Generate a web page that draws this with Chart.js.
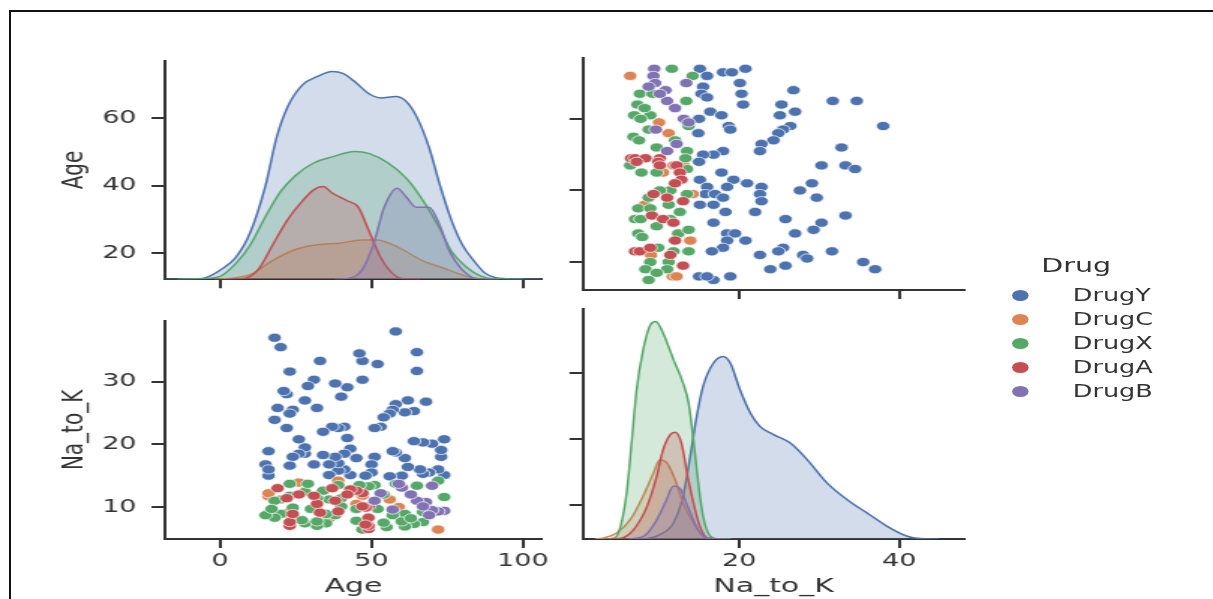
<!DOCTYPE html>
<html><head><meta charset="utf-8">
<script src="https://cdn.jsdelivr.net/npm/chart.js@4.4.1/dist/chart.umd.min.js"></script>
<style>
html,body{margin:0;padding:0;background:#fff;overflow:hidden;width:1213px;height:599px;}
#frame{position:absolute;left:9px;top:10px;width:1300px;height:700px;border-top:2px solid #111;border-left:2px solid #111;}
#wrap{position:absolute;left:0;top:0;width:809px;height:599px;transform-origin:0 0;}
#wrap canvas{position:absolute;}
.leg{position:absolute;font-family:"DejaVu Sans";color:#333;white-space:nowrap;}
.mk{position:absolute;width:11px;height:11px;border-radius:50%;}
</style></head><body>
<div id="frame"></div>
<div id="wrap"></div>
<script>
// ---------------- DATA ----------------
const drugs = ['DrugY','DrugC','DrugX','DrugA','DrugB'];
const colors = ['#4C72B0','#DD8452','#55A868','#C44E52','#8172B3'];

// axis ticks and limits (values)
const ageXTicks = [0,50,100];
const naXTicks  = [20,40];
const ageYTicks = [20,40,60];
const naYTicks  = [10,20,30];
const ageXRange = [-18.2,106.3];
const naXRange  = [0.5,48.1];
const ageYRange = [12.2,77];
const naYRange  = [4.9,39.7];

// scatter records [Age, Na_to_K]
const drugY = [[74,15.1],[73,18.0],[73,19.1],[74,20.8],[72,16.0],[70,20.1],[67,20.3],[64,20.5],[69,15.5],[67,15.3],[66,16.0],[68,26.8],[65,31.7],[65,34.7],[64,25.3],[62,27.0],[61,25.1],[62,16.4],[61,17.8],[58,38.0],[58,18.7],[57,18.9],[58,26.4],[57,25.5],[56,24.9],[54,24.3],[53,22.8],[51,22.6],[60,15.0],[56,14.9],[52,32.8],[51,18.0],[50,16.8],[50,15.5],[48,15.0],[47,30.3],[47,33.3],[46,34.5],[45,17.8],[43,19.3],[42,21.0],[41,22.8],[43,15.1],[41,16.0],[41,18.5],[42,29.1],[40,27.6],[38,29.7],[39,22.6],[37,22.8],[39,15.8],[39,17.0],[38,18.0],[36,15.1],[36,16.8],[34,18.3],[34,22.0],[33,33.3],[32,25.8],[31,16.8],[31,30.3],[29,29.3],[28,27.0],[28,18.5],[28,19.5],[26,20.8],[26,18.5],[24,18.0],[23,16.6],[24,25.5],[23,24.9],[22,22.6],[22,28.0],[21,28.5],[23,31.6],[20,35.5],[18,37.0],[19,25.8],[18,23.9],[16,15.0],[15,16.8],[16,18.9],[16,16.0]];
const drugC = [[72,6.4],[59,10.0],[56,11.2],[26,13.9],[16,11.7],[23,7.3],[39,14.2],[47,13.1],[47,11.8],[47,10.1],[22,9.0],[28,12.5],[36,8.2],[45,10.5],[16,12.2]];
const drugX = [[74,11.6],[72,14.2],[65,13.4],[67,7.6],[64,7.3],[67,9.2],[61,6.9],[61,8.9],[59,13.5],[58,13.7],[57,8.7],[55,6.8],[52,9.7],[54,12.0],[51,13.5],[49,13.3],[47,6.4],[45,7.8],[45,9.7],[46,13.5],[40,11.4],[40,10.1],[39,13.5],[38,8.7],[36,11.2],[35,7.4],[35,8.9],[32,7.0],[34,12.6],[30,9.7],[32,11.4],[28,7.4],[28,12.4],[29,13.7],[24,9.9],[23,11.8],[23,13.7],[20,11.2],[20,8.9],[18,8.3],[18,11.0],[15,8.7],[17,9.7],[27,7.9],[32,7.7],[54,7.5],[60,7.7],[63,8.2]];
const drugA = [[49,6.5],[49,7.0],[49,8.3],[49,10.1],[48,9.9],[47,12.2],[45,12.6],[43,12.8],[42,12.0],[39,9.3],[38,11.0],[37,13.0],[33,9.1],[32,10.5],[31,11.8],[26,12.0],[23,7.0],[23,7.6],[24,8.9],[19,13.0],[22,11.4],[47,10.1],[48,7.2]];
const drugB = [[74,9.4],[72,9.3],[70,9.5],[68,10.8],[65,11.0],[70,13.4],[69,8.7],[57,9.6],[53,12.2],[51,11.0],[60,13.1],[67,10.1],[63,12.0],[59,13.7]];

// KDE curves [value, density (relative units)]
const ageKdeY = [[-18,0],[-8,0.02],[-4.7,0.07],[0.2,0.43],[5.2,1.0],[10,2.16],[15,4.3],[18.6,6.47],[22.3,7.9],[27.2,8.9],[32,9.27],[37,9.51],[40.7,9.41],[44.4,9.05],[49.3,8.48],[53,8.3],[58,8.36],[61.6,8.12],[65.3,7.33],[69,6.03],[72.6,4.3],[76.3,2.73],[80,1.58],[83.7,0.86],[87.4,0.29],[91,0.07],[98,0.01],[106,0]];
const ageKdeC = [[-2,0],[2.7,0.03],[10,0.22],[17.4,0.86],[24.8,1.36],[32,1.58],[39.5,1.65],[46.9,1.8],[51.8,1.8],[59.1,1.44],[66.5,0.86],[73.9,0.5],[81.2,0.14],[86.1,0.02],[92,0]];
const ageKdeX = [[-14,0],[-5,0.03],[0.2,0.14],[5.2,0.72],[10,1.58],[15,2.87],[19.9,4.0],[24.8,4.74],[30.9,5.32],[37,5.6],[44.4,5.85],[49.3,5.75],[55.5,5.32],[61.6,4.6],[67.7,3.45],[72.6,2.3],[76.3,1.29],[81.2,0.57],[86.1,0.14],[90,0.02],[100,0]];
const ageKdeA = [[2,0],[7.6,0.03],[12.5,0.43],[17.4,1.58],[22.3,2.73],[27.2,3.59],[30.9,4.09],[34,4.24],[37,3.95],[42,3.59],[45.6,3.3],[49.3,2.16],[53,1.0],[56.7,0.29],[60.4,0.02],[66,0]];
const ageKdeB = [[38,0],[42,0.03],[46.9,0.43],[50.6,1.58],[54.2,3.3],[58.5,4.17],[61.6,3.74],[64.7,3.3],[69,3.3],[72.6,2.44],[75.7,1.29],[80,0.43],[84.9,0.02],[90,0]];

const naKdeY = [[7,0],[8.5,0.02],[10.1,0.19],[11.8,0.7],[13,1.86],[13.9,3.6],[14.7,5.33],[15.5,6.64],[16.8,7.65],[18,7.94],[18.9,7.65],[20.1,6.5],[21.4,5.48],[22.6,4.9],[24.3,4.54],[26.4,4.17],[28.5,3.45],[31,2.43],[33.5,1.71],[36,1.13],[38.5,0.55],[41,0.12],[42.6,0.02],[45,0]];
const naKdeC = [[2,0],[3,0.03],[4.7,0.26],[6.4,0.84],[8,1.86],[9.3,2.87],[10.1,3.45],[11,3.3],[12,2.58],[13,1.57],[14.3,0.7],[15.5,0.12],[16.4,0.02],[18,0]];
const naKdeX = [[3,0],[4.5,0.05],[5.3,0.7],[6,2.14],[6.6,4.3],[7.2,6.5],[8,8.2],[8.9,9.3],[9.6,9.46],[10.5,8.96],[11.8,7.8],[13,6.78],[13.7,5.9],[14.3,4.3],[14.9,2.43],[15.5,0.99],[16.4,0.12],[17.2,0.01],[19,0]];
const naKdeA = [[4,0],[5.1,0.02],[6.8,0.4],[8.5,1.42],[9.7,2.72],[10.5,3.88],[11.4,4.54],[12,4.64],[12.8,4.17],[13.5,2.87],[14.3,1.57],[15.1,0.55],[16.2,0.03],[18,0]];
const naKdeB = [[6,0],[8,0.1],[9.5,0.7],[10.8,1.6],[11.8,2.3],[12.6,2.2],[13.6,1.4],[14.8,0.45],[16,0.05],[18,0]];

const scatterSets = [drugY, drugC, drugX, drugA, drugB];
const ageKdeSets = [ageKdeY, ageKdeC, ageKdeX, ageKdeA, ageKdeB];
const naKdeSets  = [naKdeY, naKdeC, naKdeX, naKdeA, naKdeB];

// ---------------- LAYOUT ----------------
const SX = 1213/809;
const INK = '#333333';
const FONT = 'DejaVu Sans';
const wrap = document.getElementById('wrap');
wrap.style.transform = 'scaleX(' + SX + ')';
const L1 = 165/SX, R1 = 542/SX, L2 = 583/SX, R2 = 964/SX;

function rgba(hex, a){const n=parseInt(hex.slice(1),16);return `rgba(${n>>16},${(n>>8)&255},${n&255},${a})`;}

function xAxis(range, ticks, showLabels, title, h){
  return {type:'linear', position:'bottom', min:range[0], max:range[1],
    afterBuildTicks: s => { s.ticks = ticks.map(v=>({value:v})); },
    afterFit: s => { s.height = h; },
    grid:{display:true, drawOnChartArea:false, drawTicks:true, tickLength:9, color:INK, lineWidth:2},
    border:{display:true, color:INK, width:2},
    ticks:{display:showLabels, font:{family:FONT,size:18}, color:INK, padding:3, maxRotation:0, autoSkip:false},
    title:{display:!!title, text:title||'', font:{family:FONT,size:20}, color:INK, padding:{top:0,bottom:0}}};
}
function yAxis(range, ticks, showLabels, title, w){
  return {type:'linear', position:'left', min:range[0], max:range[1],
    afterBuildTicks: s => { s.ticks = ticks.map(v=>({value:v})); },
    afterFit: s => { s.width = w; },
    grid:{display:true, drawOnChartArea:false, drawTicks:true, tickLength:9, color:INK, lineWidth:2},
    border:{display:true, color:INK, width:2},
    ticks:{display:showLabels, font:{family:FONT,size:18}, color:INK, padding:10, autoSkip:false},
    title:{display:!!title, text:title||'', font:{family:FONT,size:20}, color:INK, padding:{top:38,bottom:0}}};
}
function mkCanvas(left, top, w, h){
  const c = document.createElement('canvas');
  c.width = w; c.height = h;
  c.style.left = left+'px'; c.style.top = top+'px';
  c.style.width = w+'px'; c.style.height = h+'px';
  wrap.appendChild(c);
  return c;
}
const baseOpts = {responsive:false, animation:false, devicePixelRatio:1,
  plugins:{legend:{display:false}, tooltip:{enabled:false}}};

function kdeDatasets(sets){
  const ds = [];
  for (let i = sets.length-1; i >= 0; i--) {
    ds.push({type:'line', data: sets[i].map(p=>({x:p[0], y:p[1]})), yAxisID:'yd',
      borderColor: colors[i], backgroundColor: rgba(colors[i],0.25), borderWidth:1.5,
      fill:'origin', pointRadius:0, cubicInterpolationMode:'monotone'});
  }
  return ds;
}
function scatterDatasets(swap){
  const ds = [];
  for (let i = scatterSets.length-1; i >= 0; i--) {
    ds.push({data: scatterSets[i].map(p => swap ? {x:p[1], y:p[0]} : {x:p[0], y:p[1]}),
      backgroundColor: colors[i], borderColor:'#ffffff', borderWidth:0.7, pointRadius:4.6});
  }
  return ds;
}

// Top-left: Age KDE
new Chart(mkCanvas(0,40,370,260), {type:'line', data:{datasets:kdeDatasets(ageKdeSets)},
  options:Object.assign({}, baseOpts, {layout:{padding:{left:0,top:18,right:370-R1,bottom:0}},
    scales:{x:xAxis(ageXRange, ageXTicks, false, null, 10),
            y:yAxis(ageYRange, ageYTicks, true, 'Age', L1),
            yd:{type:'linear', display:false, min:0, max:10}}})});

// Top-right: Na_to_K vs Age scatter
new Chart(mkCanvas(367,40,284,260), {type:'scatter', data:{datasets:scatterDatasets(true)},
  options:Object.assign({}, baseOpts, {layout:{padding:{left:0,top:18,right:367+284-R2,bottom:0}},
    scales:{x:xAxis(naXRange, naXTicks, false, null, 10),
            y:yAxis(ageYRange, ageYTicks, false, null, L2-367)}})});

// Bottom-left: Age vs Na_to_K scatter
new Chart(mkCanvas(0,300,370,299), {type:'scatter', data:{datasets:scatterDatasets(false)},
  options:Object.assign({}, baseOpts, {layout:{padding:{left:0,top:9,right:370-R1,bottom:0}},
    scales:{x:xAxis(ageXRange, ageXTicks, true, 'Age', 60),
            y:yAxis(naYRange, naYTicks, true, 'Na_to_K', L1)}})});

// Bottom-right: Na_to_K KDE
new Chart(mkCanvas(367,300,284,299), {type:'line', data:{datasets:kdeDatasets(naKdeSets)},
  options:Object.assign({}, baseOpts, {layout:{padding:{left:0,top:9,right:367+284-R2,bottom:0}},
    scales:{x:xAxis(naXRange, naXTicks, true, 'Na_to_K', 60),
            y:yAxis(naYRange, naYTicks, false, null, L2-367),
            yd:{type:'linear', display:false, min:0, max:10}}})});

// Legend
(function(){
  const t = document.createElement('div');
  t.className='leg'; t.textContent='Drug';
  t.style.left='694.5px'; t.style.top='254px'; t.style.fontSize='19px'; t.style.lineHeight='22px';
  wrap.appendChild(t);
  const rows=[295,319,343,367,391];
  drugs.forEach((d,i)=>{
    const m=document.createElement('div'); m.className='mk';
    m.style.left=(680-5.5)+'px'; m.style.top=(rows[i]-5.5)+'px'; m.style.background=colors[i];
    wrap.appendChild(m);
    const l=document.createElement('div'); l.className='leg'; l.textContent=d;
    l.style.left='715.5px'; l.style.top=(rows[i]-10)+'px'; l.style.fontSize='17px'; l.style.lineHeight='20px';
    wrap.appendChild(l);
  });
})();
</script>
</body></html>
